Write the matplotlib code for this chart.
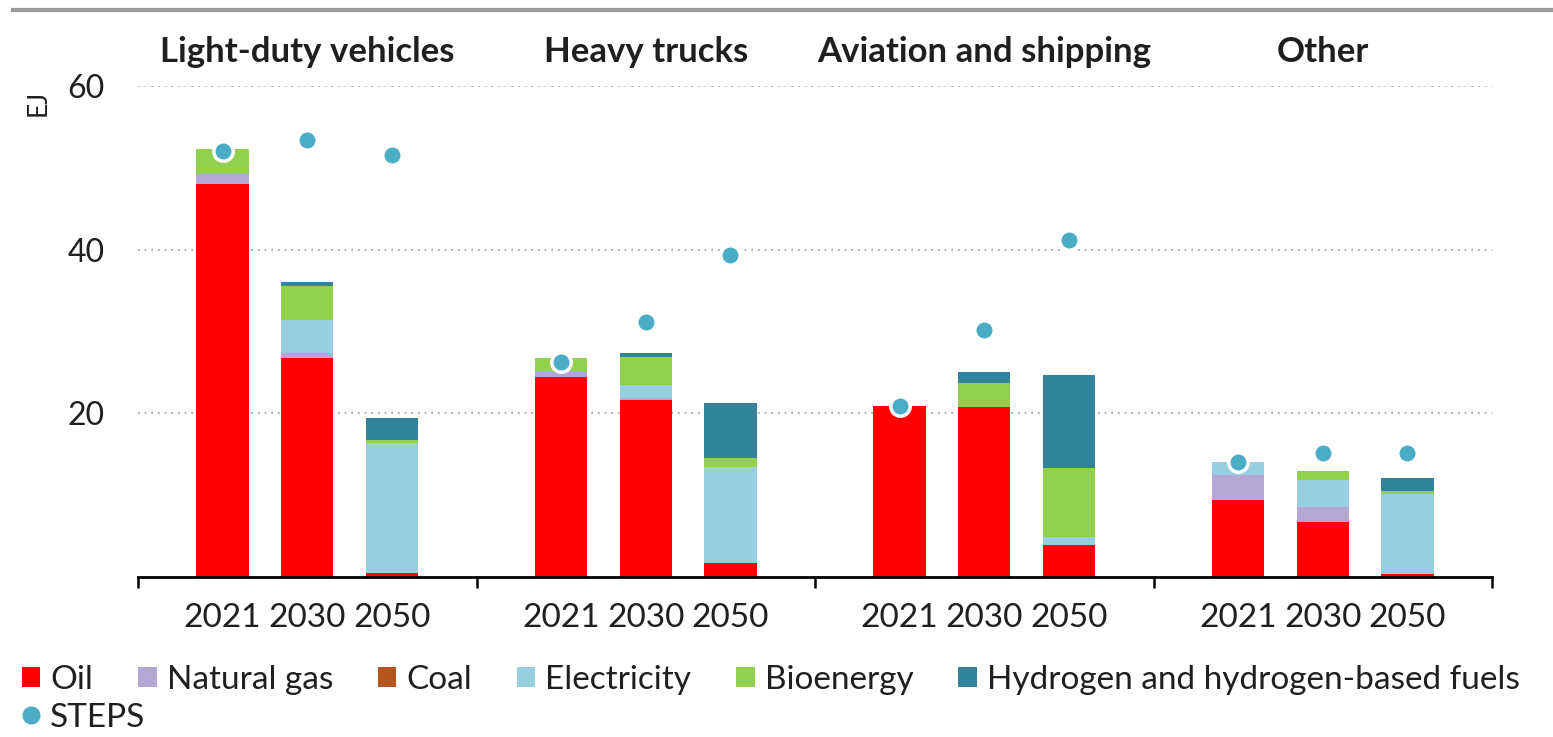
import numpy as np
import matplotlib
matplotlib.use('Agg')
import matplotlib.pyplot as plt
from matplotlib.patches import Patch
from matplotlib.lines import Line2D

plt.rcParams['font.family'] = ['Lato', 'DejaVu Sans']
TXT = '#1f1f1f'

# categories
groups = ['Light-duty vehicles', 'Heavy trucks', 'Aviation and shipping', 'Other']
years = ['2021', '2030', '2050']

# EJ values, ordered group by group, 2021 / 2030 / 2050
oil = [48.0, 26.8, 0.5, 24.4, 21.6, 1.7, 20.9, 20.8, 3.9, 9.4, 6.7, 0.4]
gas = [1.2, 0.6, 0.0, 0.6, 0.3, 0.0, 0.0, 0.0, 0.0, 3.1, 1.9, 0.0]
coal = [0.0, 0.0, 0.0, 0.0, 0.0, 0.0, 0.0, 0.0, 0.0, 0.0, 0.0, 0.0]
elec = [0.0, 4.0, 15.9, 0.0, 1.6, 11.7, 0.0, 0.0, 1.0, 1.6, 3.3, 9.8]
bio = [3.1, 4.1, 0.3, 1.8, 3.4, 1.1, 0.0, 2.9, 8.4, 0.0, 1.0, 0.3]
hydrogen = [0.0, 0.6, 2.7, 0.0, 0.5, 6.8, 0.0, 1.4, 11.4, 0.0, 0.0, 1.6]
steps = [52.1, 53.4, 51.6, 26.3, 31.2, 39.4, 20.9, 30.2, 41.2, 14.0, 15.1, 15.1]

series = [
    ('Oil', oil, '#ff0000'),
    ('Natural gas', gas, '#b3a8d4'),
    ('Coal', coal, '#b5541c'),
    ('Electricity', elec, '#97cee0'),
    ('Bioenergy', bio, '#92d050'),
    ('Hydrogen and hydrogen-based fuels', hydrogen, '#31849b'),
]
steps_color = '#4bacc6'

# x positions: 3 bars per group, one empty slot between groups
x = np.array([g * 4 + i for g in range(len(groups)) for i in range(len(years))])

fig = plt.figure(figsize=(15.53, 7.37), dpi=100)
W, H = 1553, 737
ax = fig.add_axes([138 / W, 160 / H, (1492 - 138) / W, (577 - 86) / H])

bottom = np.zeros(len(x))
for name, vals, col in series:
    vals = np.array(vals)
    ax.bar(x, vals, 0.62, bottom=bottom, color=col, zorder=2)
    bottom += vals

ax.plot(x, steps, 'o', color=steps_color, markersize=14,
        markeredgecolor='white', markeredgewidth=2.5, zorder=3, clip_on=False)

ax.set_xlim(-1, 15)
ax.set_ylim(0, 60)
ax.set_yticks([20, 40, 60])
ax.yaxis.grid(True, linestyle=(0, (1, 3)), color='#999999', linewidth=1.2, zorder=0)
ax.tick_params(axis='y', length=0, pad=24, labelsize=23, labelcolor=TXT)

ax.set_xticks(x)
ax.set_xticklabels(years * len(groups))
ax.tick_params(axis='x', which='major', length=0, pad=19, labelsize=24, labelcolor=TXT)
ax.set_xticks([-1, 3, 7, 11, 15], minor=True)
ax.tick_params(axis='x', which='minor', length=8, width=1.8, direction='out', color='black')

for s in ['top', 'right', 'left']:
    ax.spines[s].set_visible(False)
ax.spines['bottom'].set_linewidth(2)
ax.spines['bottom'].set_zorder(4)

for g, name in enumerate(groups):
    ax.text(g * 4 + 1, 64.2, name, ha='center', va='center', fontsize=25,
            fontweight='bold', color=TXT, clip_on=False)

fig.text(38 / W, 1 - 103 / H, 'EJ', rotation=90, ha='center', va='center',
         fontsize=19, color=TXT)

# grey rule at the top
fig.add_artist(Line2D([13 / W, 1], [1 - 10 / H, 1 - 10 / H], color='#9a9a9a', linewidth=3))

handles = [Patch(facecolor=c, edgecolor='none', label=n) for n, v, c in series]
leg1 = fig.legend(handles=handles, loc='center left', bbox_to_anchor=(22 / W, 1 - 680 / H),
                  ncol=6, frameon=False, fontsize=24, handlelength=0.55, handleheight=0.55,
                  handletextpad=0.3, columnspacing=1.35, borderpad=0, borderaxespad=0)
for t in leg1.get_texts():
    t.set_color(TXT)
steps_handle = Line2D([], [], marker='o', linestyle='none', color=steps_color,
                      markersize=12, label='STEPS')
leg2 = fig.legend(handles=[steps_handle], loc='center left', bbox_to_anchor=(22 / W, 1 - 718 / H),
                  frameon=False, fontsize=24, handlelength=0.55, handletextpad=0.3,
                  borderpad=0, borderaxespad=0)
for t in leg2.get_texts():
    t.set_color(TXT)

fig.savefig('out.png', dpi=100)
